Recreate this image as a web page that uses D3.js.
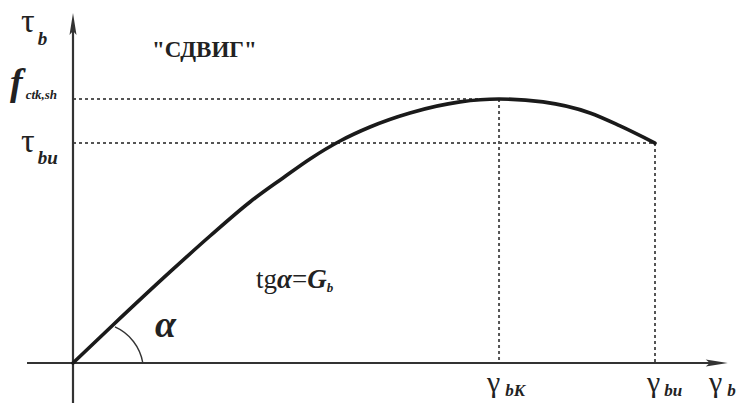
<!DOCTYPE html>
<html>
<head>
<meta charset="utf-8">
<script src="https://cdn.jsdelivr.net/npm/d3@7"></script>
<style>
  html, body { margin: 0; padding: 0; background: #fff; }
  svg { display: block; }
</style>
</head>
<body>
<svg id="chart" width="744" height="403"></svg>
<script>
// Shear stress–strain diagram for concrete (normalised: γ / γbu, τ / fctk,sh)
const gamma = [0, 0.0687, 0.1667, 0.2354, 0.3041, 0.3608, 0.4072, 0.4588, 0.5103, 0.5790, 0.6649, 0.7320, 0.8076, 0.8883, 0.9399, 1.0];
const tau   = [0, 0.144, 0.345, 0.481, 0.610, 0.701, 0.773, 0.841, 0.894, 0.947, 0.989, 1.0, 0.989, 0.947, 0.898, 0.833];

// Characteristic levels
const levelNames  = ["fctk,sh", "τbu"];
const levelValues = [1.0, 0.833];
const strainNames  = ["γbK", "γbu"];
const strainValues = [0.732, 1.0];

// Axis extents (in normalised units)
const xAxisExtent = [-0.079, 1.125];
const yAxisExtent = [-0.152, 1.326];

const FONT = "\"Liberation Serif\"";

const svg = d3.select("#chart");
const x = d3.scaleLinear().domain([0, 1]).range([73, 655]);
const y = d3.scaleLinear().domain([0, 1]).range([363, 99]);

const axisColor = "#333";

// Reference dashed lines
const dash = svg.append("g")
  .attr("stroke", "#555")
  .attr("stroke-width", 2)
  .attr("stroke-dasharray", "3,3")
  .attr("fill", "none");

// horizontal: from the τ-axis to the corresponding strain
dash.append("line")
  .attr("x1", x(0)).attr("x2", x(strainValues[0]))
  .attr("y1", y(levelValues[0])).attr("y2", y(levelValues[0]));
dash.append("line")
  .attr("x1", x(0)).attr("x2", x(strainValues[1]))
  .attr("y1", y(levelValues[1])).attr("y2", y(levelValues[1]));
// vertical: from the curve down to the γ-axis
dash.append("line")
  .attr("x1", x(strainValues[0])).attr("x2", x(strainValues[0]))
  .attr("y1", y(levelValues[0])).attr("y2", y(0));
dash.append("line")
  .attr("x1", x(strainValues[1])).attr("x2", x(strainValues[1]))
  .attr("y1", y(levelValues[1])).attr("y2", y(0));

// Axes
svg.append("line")
  .attr("x1", x(xAxisExtent[0])).attr("x2", x(xAxisExtent[1]) - 12)
  .attr("y1", y(0)).attr("y2", y(0))
  .attr("stroke", axisColor).attr("stroke-width", 2.2);
svg.append("line")
  .attr("x1", x(0)).attr("x2", x(0))
  .attr("y1", y(yAxisExtent[0])).attr("y2", y(yAxisExtent[1]) + 12)
  .attr("stroke", axisColor).attr("stroke-width", 2.2);

// Arrowheads
const xt = x(xAxisExtent[1]), yt = y(0);
svg.append("path")
  .attr("d", `M${xt},${yt} L${xt - 22},${yt - 3.5} L${xt - 18},${yt} L${xt - 22},${yt + 3.5} Z`)
  .attr("fill", axisColor);
const ax = x(0), at = y(yAxisExtent[1]);
svg.append("path")
  .attr("d", `M${ax},${at} L${ax - 3.5},${at + 22} L${ax},${at + 18} L${ax + 3.5},${at + 22} Z`)
  .attr("fill", axisColor);

// Curve
const line = d3.line()
  .x((d, i) => x(gamma[i]))
  .y((d, i) => y(tau[i]))
  .curve(d3.curveMonotoneX);
svg.append("path")
  .datum(gamma)
  .attr("d", line)
  .attr("fill", "none")
  .attr("stroke", "#1a1a1a")
  .attr("stroke-width", 3.6)
  .attr("stroke-linecap", "round")
  .attr("stroke-linejoin", "round");

// Angle arc α between γ-axis and initial tangent
const p1x = x(gamma[1]) + 2, p1y = y(tau[1]) + 2;
const arcEndX = x(0.12);
svg.append("path")
  .attr("d", `M${p1x},${p1y} A48,48 0 0 1 ${arcEndX},${y(0)}`)
  .attr("fill", "none")
  .attr("stroke", "#333")
  .attr("stroke-width", 1.4);

// Labels: each run is its own <text>, laid out left to right
function label(xp, yp, parts) {
  let cx = xp, cy = yp;
  parts.forEach(p => {
    cx += (p.dx || 0);
    cy += (p.dy || 0);
    const t = svg.append("text")
      .attr("x", cx).attr("y", cy)
      .attr("font-size", p.size)
      .style("font-family", FONT)
      .style("fill", "#222")
      .text(p.t);
    if (p.w) t.style("font-weight", p.w);
    if (p.st) t.style("font-style", p.st);
    cx += t.node().getComputedTextLength();
  });
}

// τb (axis title)
label(21, 32, [
  { t: "τ", size: 34 },
  { t: "b", size: 19, w: "bold", st: "italic", dy: 13, dx: 3 }
]);

// "СДВИГ"
label(152, 57, [{ t: "\"СДВИГ\"", size: 23, w: "bold" }]);

// fctk,sh
label(10, 95, [
  { t: "f", size: 38, w: "bold", st: "italic" },
  { t: "ctk,sh", size: 13, w: "bold", st: "italic", dx: 3, dy: 4 }
]);

// τbu
label(21, 152, [
  { t: "τ", size: 34 },
  { t: "bu", size: 19, w: "bold", st: "italic", dy: 12, dx: 3 }
]);

// tgα = Gb
label(256, 288, [
  { t: "tg", size: 27 },
  { t: "α", size: 27, w: "bold", st: "italic" },
  { t: "=", size: 27 },
  { t: "G", size: 27, w: "bold", st: "italic" },
  { t: "b", size: 13, w: "bold", st: "italic", dy: 4 }
]);

// α at the angle
label(155, 337, [{ t: "α", size: 38, w: "bold", st: "italic" }]);

// γ labels on the strain axis
label(487, 392, [
  { t: "γ", size: 30 },
  { t: "bK", size: 17, w: "bold", st: "italic", dy: 4, dx: 5 }
]);
label(647, 392, [
  { t: "γ", size: 30 },
  { t: "bu", size: 17, w: "bold", st: "italic", dy: 4, dx: 4 }
]);
label(709, 392, [
  { t: "γ", size: 30 },
  { t: "b", size: 17, w: "bold", st: "italic", dy: 4, dx: 5 }
]);
</script>
</body>
</html>
